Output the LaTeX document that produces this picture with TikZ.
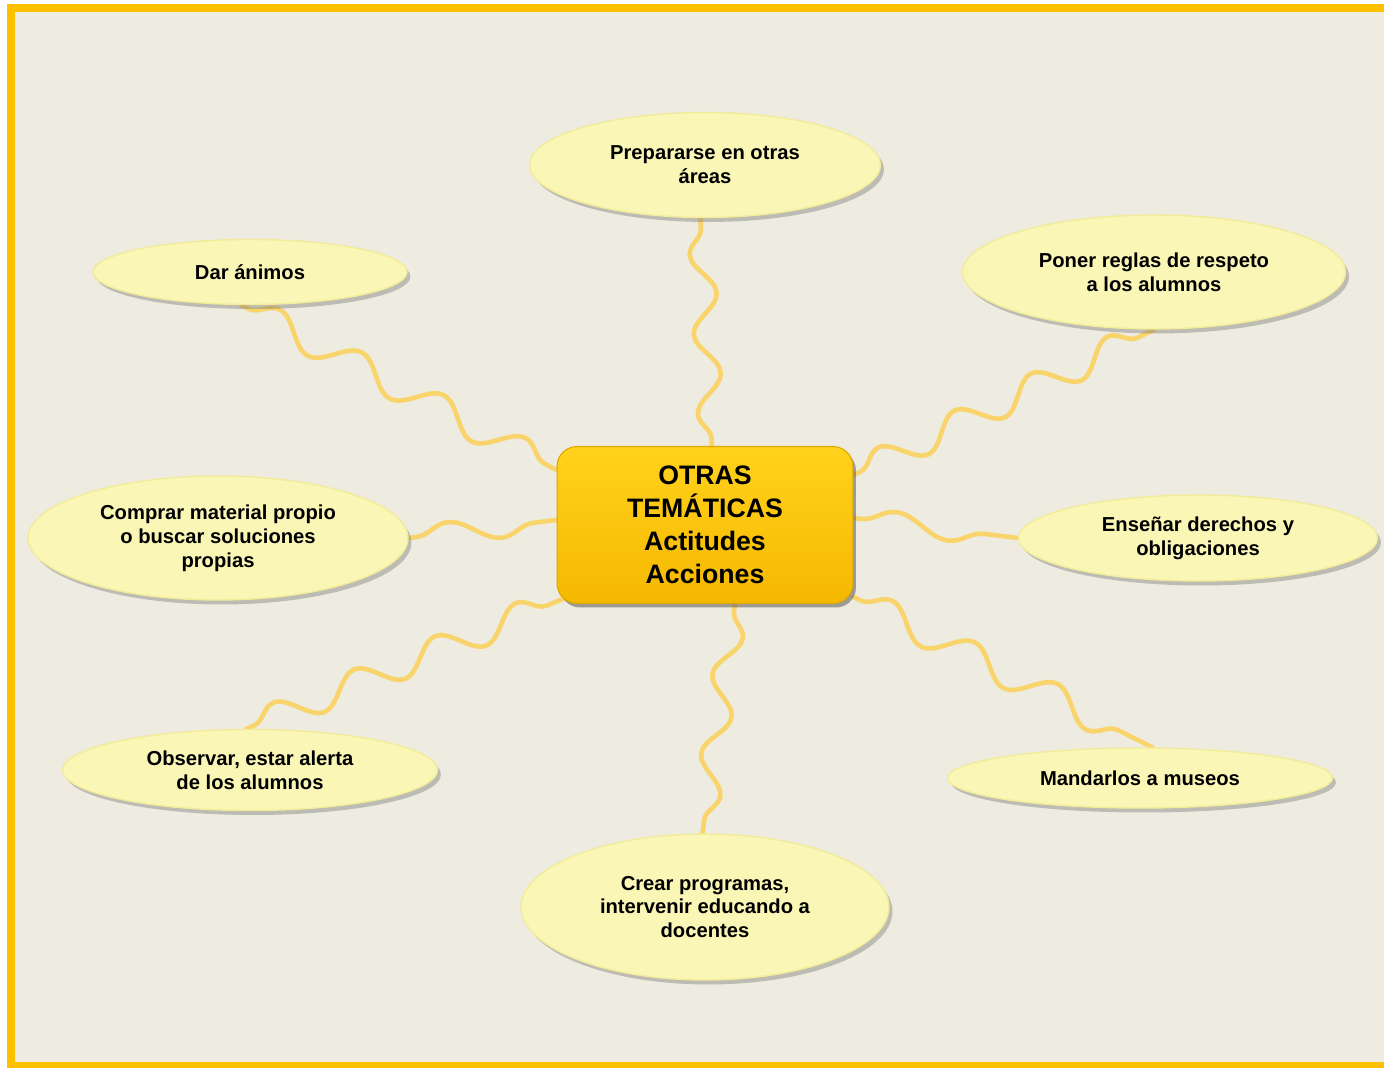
\documentclass[tikz,border=0pt]{standalone}
\usepackage{fontspec}
\setmainfont{Liberation Sans}
\usetikzlibrary{shapes.geometric}
\usetikzlibrary{shadows}
\usetikzlibrary{decorations.pathmorphing}
\definecolor{paper}{HTML}{EEEBE0}
\definecolor{frame}{HTML}{FFC000}
\definecolor{wirecol}{HTML}{F9D46A}
\definecolor{ideafill}{HTML}{F9F6B6}
\definecolor{ideaedge}{HTML}{F2EC9A}
\definecolor{hubtop}{HTML}{FFD21C}
\definecolor{hubbot}{HTML}{F6B800}
\pgfdeclarelayer{back}
\pgfdeclarelayer{wires}
\pgfsetlayers{back,wires,main}
\tikzset{idea/.style={ellipse, fill=ideafill, draw=ideaedge, line width=0.8pt, inner sep=0pt, align=center,
    font=\fontsize{11.5}{13.6}\selectfont\bfseries,
    drop shadow={shadow xshift=0.07cm, shadow yshift=-0.09cm, opacity=0.4, fill=black!55}},
  hub/.style={rectangle, rounded corners=0.4cm, top color=hubtop, bottom color=hubbot, draw=hubbot!90!black,
    line width=0.6pt, minimum width=5.92cm, minimum height=3.14cm, align=center,
    font=\fontsize{15.2}{18.8}\selectfont\bfseries,
    drop shadow={shadow xshift=0.06cm, shadow yshift=-0.08cm, opacity=0.5, fill=black!70}},
  wire/.style 2 args={draw=wirecol, line width=2.6pt, line cap=round, decorate,
    decoration={snake, amplitude=#1, segment length=#2, pre length=0.15cm, post length=0.15cm}}}

\begin{document}
\begin{tikzpicture}[x=0.02cm, y=-0.02cm]
\useasboundingbox (0,0) rectangle (1384,1068);
\begin{pgfonlayer}{back}
\fill[white] (0,0) rectangle (1384,1068);
\fill[frame] (7,4) rectangle (1384,1068);
\fill[paper] (15,12) rectangle (1384,1062);
\end{pgfonlayer}

\node[hub] (hub) at (705,525) {OTRAS\\TEMÁTICAS\\Actitudes\\Acciones};

% ideas round the hub
\node[idea, minimum width=7.02cm, minimum height=2.1cm] (areas) at (705,165) {Prepararse en otras\\áreas};
\node[idea, minimum width=6.28cm, minimum height=1.3cm] (animos) at (250,272) {Dar ánimos};
\node[idea, minimum width=7.66cm, minimum height=2.28cm] (reglas) at (1154,272) {Poner reglas de respeto\\a los alumnos};
\node[idea, minimum width=7.6cm, minimum height=2.48cm] (material) at (218,538) {Comprar material propio\\o buscar soluciones\\propias};
\node[idea, minimum width=7.18cm, minimum height=1.72cm] (derechos) at (1198,538) {Enseñar derechos y\\obligaciones};
\node[idea, minimum width=7.5cm, minimum height=1.62cm] (alerta) at (250,770) {Observar, estar alerta\\de los alumnos};
\node[idea, minimum width=7.7cm, minimum height=1.2cm] (museos) at (1140,778) {Mandarlos a museos};
\node[idea, minimum width=7.36cm, minimum height=2.92cm] (programas) at (705,907) {Crear programas,\\intervenir educando a\\docentes};

% wavy links, kept under the boxes
\begin{pgfonlayer}{wires}
\draw[wire={0.25cm}{1.6cm}] ([xshift=0.14cm]hub.north) -- (areas.-95);
\draw[wire={0.28cm}{1.85cm}] (animos.-105) -- ([yshift=1.1cm]hub.west);
\draw[wire={0.28cm}{1.7cm}] ([yshift=1cm]hub.east) -- (reglas.-90);
\draw[wire={0.22cm}{2.1cm}] (material.east) -- ([yshift=0.1cm]hub.west);
\draw[wire={0.22cm}{2.2cm}] ([yshift=0.14cm]hub.east) -- (derechos.west);
\draw[wire={0.28cm}{1.75cm}] (alerta.95) -- ([xshift=0.2cm,yshift=-1.45cm]hub.west);
\draw[wire={0.28cm}{1.85cm}] ([yshift=-1.44cm]hub.east) -- (museos.68);
\draw[wire={0.25cm}{1.6cm}] ([xshift=0.6cm]hub.south) -- (programas.92);
\end{pgfonlayer}
\end{tikzpicture}
\end{document}
